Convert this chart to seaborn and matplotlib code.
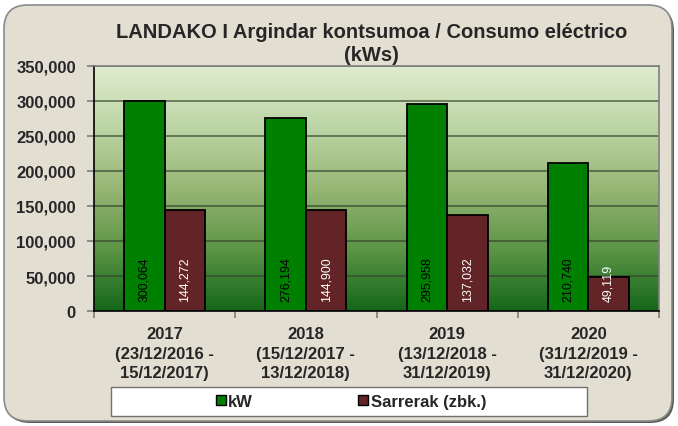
import numpy as np
import pandas as pd
import matplotlib
matplotlib.use("Agg")
import matplotlib.pyplot as plt
import seaborn as sns
from matplotlib.colors import LinearSegmentedColormap
from matplotlib.patches import FancyBboxPatch, Rectangle, Patch
from matplotlib.ticker import FuncFormatter

categories = ["2017\n(23/12/2016 -\n15/12/2017)",
              "2018\n(15/12/2017 -\n13/12/2018)",
              "2019\n(13/12/2018 -\n31/12/2019)",
              "2020\n(31/12/2019 -\n31/12/2020)"]
series_names = ["kW", "Sarrerak (zbk.)"]
kw_values = [300064, 276194, 295958, 210740]
sarrerak_values = [144272, 144900, 137032, 49119]
title = "LANDAKO I Argindar kontsumoa / Consumo eléctrico\n(kWs)"

GREEN = "#008000"
MAROON = "#622426"

sns.set_theme(style="white")
plt.rcParams['font.family'] = ['Liberation Sans', 'DejaVu Sans']

df = pd.DataFrame({
    "cat": categories * 2,
    "series": [series_names[0]] * 4 + [series_names[1]] * 4,
    "value": kw_values + sarrerak_values,
})

W, H = 678, 427
fig = plt.figure(figsize=(W / 100, H / 100), dpi=100)
fig.patch.set_facecolor("white")

# rounded beige panel
shadow = FancyBboxPatch((6 / W, 3 / H), 668 / W, 416 / H,
                        boxstyle="round,pad=0,rounding_size=0.035",
                        transform=fig.transFigure, facecolor="#5a5a5a",
                        edgecolor="none", zorder=-3, mutation_aspect=W / H)
fig.patches.append(shadow)
panel = FancyBboxPatch((4 / W, 5 / H), 668 / W, 416 / H,
                       boxstyle="round,pad=0,rounding_size=0.035",
                       transform=fig.transFigure, facecolor="#e2ded2",
                       edgecolor="#8a8a8a", linewidth=1.2, zorder=-2,
                       mutation_aspect=W / H)
fig.patches.append(panel)

left, right, top, bottom = 94, 659, 67, 312
ax = fig.add_axes([left / W, 1 - bottom / H, (right - left) / W, (bottom - top) / H])

cmap = LinearSegmentedColormap.from_list(
    "g", [(0.0, "#14671a"), (0.25, "#5c9446"), (0.5, "#97b675"),
          (0.75, "#bcd5a5"), (1.0, "#dfeccf")])
grad = np.linspace(0, 1, 256).reshape(-1, 1)
ax.imshow(grad, cmap=cmap, origin="lower", aspect="auto",
          extent=[0, 1, 0, 1], transform=ax.transAxes, zorder=0)

sns.barplot(data=df, x="cat", y="value", hue="series",
            palette=[GREEN, MAROON], width=0.574, edgecolor="black",
            linewidth=1.3, ax=ax, zorder=3, legend=False, saturation=1)

ax.set_xlim(-0.5, 3.5)
ax.set_ylim(0, 350000)
ax.set_yticks(np.arange(0, 350001, 50000))
ax.yaxis.set_major_formatter(FuncFormatter(lambda v, p: f"{int(v):,}"))
for y in range(50000, 350001, 50000):
    ax.axhline(y, color="#34422c", lw=1.1, alpha=0.8, zorder=1)

ax.set_xticks([-0.5, 0.5, 1.5, 2.5, 3.5], minor=False)
ax.set_xticklabels([])
ax.set_xticks([0, 1, 2, 3], minor=True)
ax.set_xticklabels(categories, minor=True, fontsize=12, fontweight="bold")
for lab in ax.get_xticklabels(minor=True):
    lab.set_linespacing(1.38)
ax.tick_params(axis="x", which="minor", length=0, pad=11)
ax.tick_params(axis="x", which="major", length=5, color="#808080", direction="out")
ax.tick_params(axis="y", length=5, color="#808080", direction="out", pad=8,
               labelsize=12)
for lab in ax.get_yticklabels():
    lab.set_fontweight("bold")
ax.xaxis.set_tick_params(bottom=True)
ax.yaxis.set_tick_params(left=True)
ax.set_xlabel("")
ax.set_ylabel("")

for s in ["left", "bottom"]:
    ax.spines[s].set_color("black")
    ax.spines[s].set_linewidth(1.2)
for s in ["top", "right"]:
    ax.spines[s].set_color("#808080")
    ax.spines[s].set_linewidth(1.2)
for s in ax.spines.values():
    s.set_visible(True)
    s.set_zorder(5)

# value labels
for container, colr in zip(ax.containers, ["black", "white"]):
    for bar in container:
        h = bar.get_height()
        ax.annotate(f"{int(h):,}", (bar.get_x() + bar.get_width() / 2, 0),
                    xytext=(0, 7.5), textcoords="offset points",
                    rotation=90, ha="center", va="bottom",
                    fontsize=8.9, color=colr, zorder=6)

fig.text(371.5 / W, 1 - 44 / H, title, ha="center", va="center",
         fontsize=14.5, fontweight="bold", linespacing=1.25)

# legend box
fig.patches.append(Rectangle((111 / W, 1 - 417 / H), 476 / W, 29 / H,
                             transform=fig.transFigure, facecolor="white",
                             edgecolor="#707070", linewidth=1, zorder=1))
handles = [Patch(facecolor=GREEN, edgecolor="black", linewidth=1),
           Patch(facecolor=MAROON, edgecolor="black", linewidth=1)]
leg = fig.legend(handles, series_names, loc="center", ncol=2,
                 bbox_to_anchor=(351 / W, 1 - 402.5 / H), frameon=False,
                 handlelength=0.6, handleheight=0.6, handletextpad=0.15,
                 columnspacing=6.3, prop={"weight": "bold", "size": 12})

fig.savefig("out.png", dpi=100, facecolor=fig.get_facecolor())
